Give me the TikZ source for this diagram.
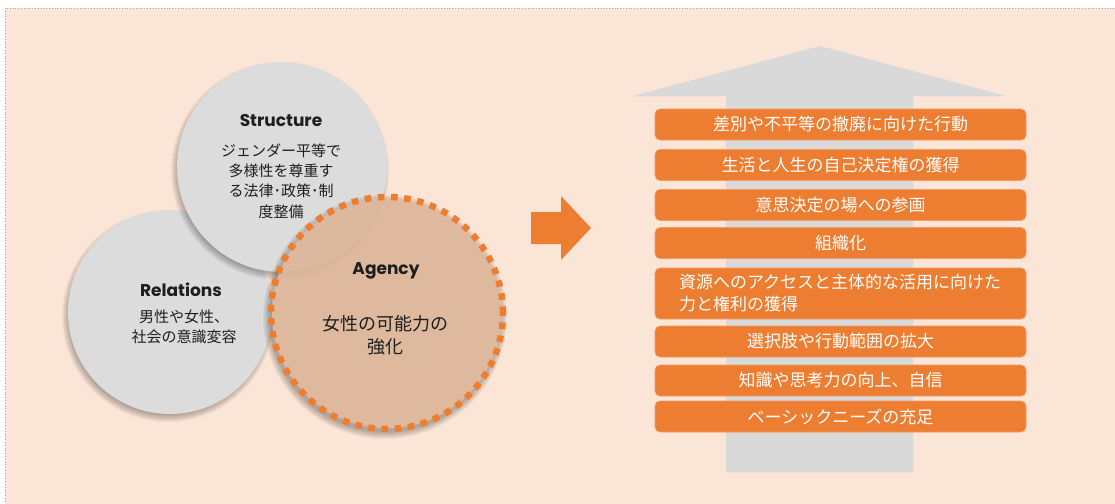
\documentclass[tikz,border=0pt]{standalone}
\usepackage{fontspec}
\setmainfont{Noto Sans CJK JP}
\newfontfamily\titlefont{Poppins}
\definecolor{bgc}{HTML}{FBE5D6}
\definecolor{org}{HTML}{ED7D31}
\definecolor{orgedge}{HTML}{F29B68}
\definecolor{gry}{HTML}{D9D9D9}
\definecolor{circ}{HTML}{DCDCDC}
\definecolor{agfill}{HTML}{E5BCA0}
\definecolor{txt}{HTML}{1E1E1E}
\definecolor{frame}{HTML}{A6A6A6}
\newcommand\softshadow[3]{%
  \foreach \i in {0,...,7}{%
    \fill[black,opacity=0.04] (#1-2,#2+4) circle[radius=#3pt+4pt-\i pt];}}
\tikzset{
  circbox/.style={circle,fill=circ,minimum size=#1,inner sep=0pt},
  ttl/.style={font=\titlefont\bfseries\fontsize{17}{19}\selectfont,text=txt,inner sep=0pt},
  jtxt/.style={font=\fontsize{15}{20.3}\selectfont,text=txt,align=center,inner sep=0pt},
  bar/.style={rounded corners=5pt,fill=org,draw=orgedge,line width=0.6pt,
    minimum width=371pt,minimum height=31pt,inner sep=0pt,text=white,
    font=\fontsize{17}{22}\selectfont},
}
\begin{document}
\begin{tikzpicture}[x=1pt,y=-1pt]
\useasboundingbox (0,0) rectangle (1115,503);
% background
\fill[bgc] (5,8) rectangle (1125,515);
\draw[frame,dotted,line width=0.8pt] (1125,8) -- (5,8) -- (5,515);

% circles
\softshadow{170}{312}{102}
\node[circbox=204pt] (rel) at (170,312) {};
\softshadow{282}{167}{105}
\node[circbox=210pt] (str) at (282,167) {};
\softshadow{387}{313}{118}
\fill[agfill,opacity=0.88] (387,313) circle[radius=115pt];
\node[circle,minimum size=232pt,inner sep=0pt,draw=org,line width=6.5pt,
  dash pattern=on 6.6pt off 6.6pt] (agc) at (387,313) {};

% circle texts
\node[ttl] (strt) at (281,121) {Structure};
\node[jtxt] (strj) at (281,181) {ジェンダー平等で\\多様性を尊重す\\る法律･政策･制\\度整備};
\node[ttl] (relt) at (181,290) {Relations};
\node[jtxt] (relj) at (184,327) {男性や女性、\\社会の意識変容};
\node[ttl] (agt) at (386,271) {Agency};
\node[jtxt,font=\fontsize{18}{23}\selectfont] (agj) at (385,335.5) {女性の可能力の\\強化};

% orange arrow
\fill[org] (531,212) -- (561,212) -- (561,196) -- (591,228) -- (561,260) -- (561,244) -- (531,244) -- cycle;

% gray arrow
\fill[gry] (726,472) -- (726,96) -- (633,96) -- (820,46) -- (1006,96) -- (913,96) -- (913,472) -- cycle;

% bars
\node[bar] (b1) at (840.5,124.5) {差別や不平等の撤廃に向けた行動};
\node[bar] (b2) at (840.5,165) {生活と人生の自己決定権の獲得};
\node[bar] (b3) at (840.5,205) {意思決定の場への参画};
\node[bar] (b4) at (840.5,243) {組織化};
\node[bar,minimum height=51pt,text width=323pt,inner xsep=24pt,align=left] (b5) at (840.5,293.5) {資源へのアクセスと主体的な活用に向けた\\力と権利の獲得};
\node[bar] (b6) at (840.5,341.5) {選択肢や行動範囲の拡大};
\node[bar] (b7) at (840.5,380.5) {知識や思考力の向上、自信};
\node[bar] (b8) at (840.5,416.5) {ベーシックニーズの充足};
\end{tikzpicture}
\end{document}
